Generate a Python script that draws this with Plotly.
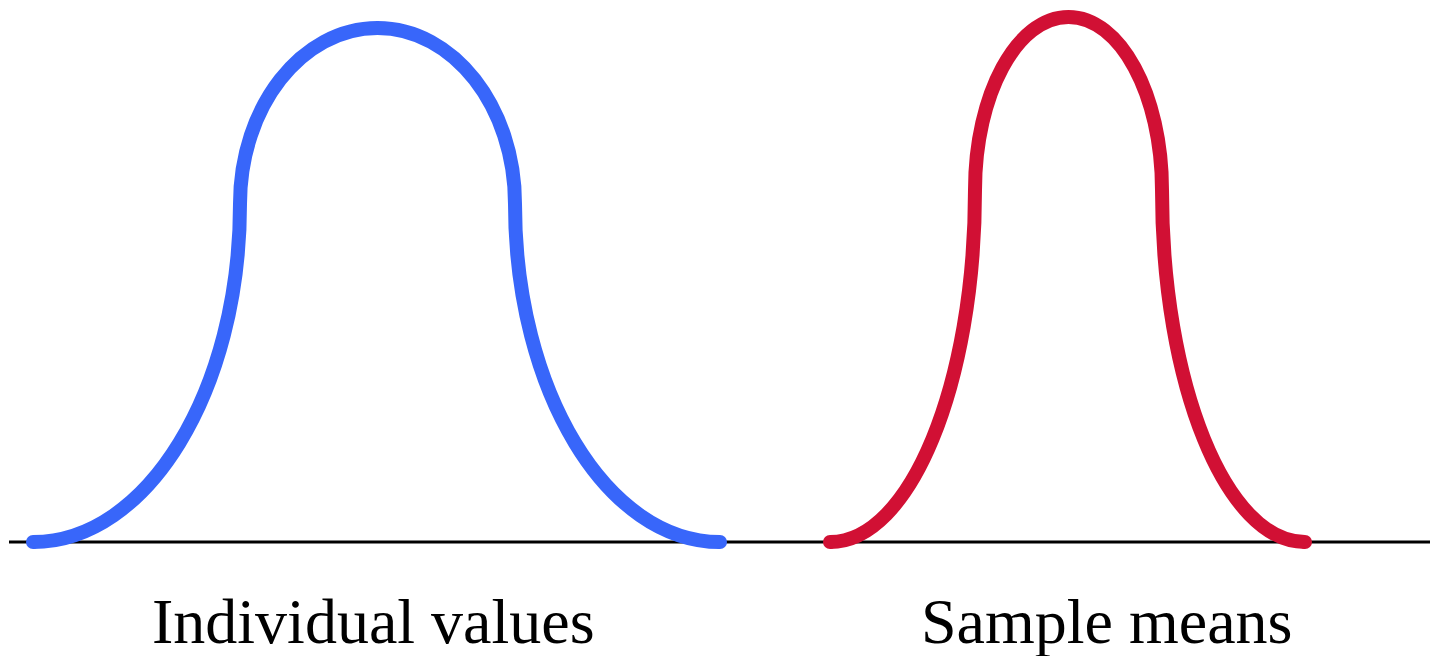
import plotly.graph_objects as go

# Key points of each schematic curve (data units; baseline at y = 0)
labels = ["Individual values", "Sample means"]
colors = ["#3866FA", "#D11034"]
start_x = [33, 830]
shoulder_left_x = [240, 975]
shoulder_right_x = [515, 1162]
end_x = [720, 1305]
shoulder_y = [338, 352]
peak_y = [514, 525]
label_x = [373, 1106]
label_y = [-79, -79]

baseline_x = [9, 1438]

K = 0.5523  # Bezier quarter-ellipse constant

fig = go.Figure()

shapes = [dict(type="line", xref="x", yref="y", x0=baseline_x[0], x1=baseline_x[1],
               y0=0, y1=0, line=dict(color="black", width=3), layer="below")]

for i in range(len(labels)):
    x0, xl, xr, x1 = start_x[i], shoulder_left_x[i], shoulder_right_x[i], end_x[i]
    ys, yp = shoulder_y[i], peak_y[i]
    xc = (xl + xr) / 2
    rxu = (xr - xl) / 2
    ryu = yp - ys
    path = (
        f"M {x0},0 "
        f"C {x0 + K * (xl - x0)},0 {xl},{ys - K * ys} {xl},{ys} "
        f"C {xl},{ys + K * ryu} {xc - K * rxu},{yp} {xc},{yp} "
        f"C {xc + K * rxu},{yp} {xr},{ys + K * ryu} {xr},{ys} "
        f"C {xr},{ys - K * ys} {x1 - K * (x1 - xr)},0 {x1},0"
    )
    shapes.append(dict(type="path", xref="x", yref="y", path=path,
                       line=dict(color=colors[i], width=14), layer="above"))
    # round caps at the ends
    fig.add_trace(go.Scatter(x=[x0, x1], y=[0, 0], mode="markers",
                             marker=dict(color=colors[i], size=14, line=dict(width=0)),
                             hoverinfo="skip", showlegend=False, cliponaxis=False))
    fig.add_annotation(x=label_x[i], y=label_y[i], xref="x", yref="y", text=labels[i],
                       showarrow=False, yanchor="middle", xanchor="center",
                       font=dict(family="Liberation Serif", size=64, color="black"))

# the page body adds an 8 px margin, so the figure is 8 px smaller and ranges start there
fig.update_layout(
    width=1430, height=648,
    margin=dict(l=0, r=0, t=0, b=0),
    paper_bgcolor="white", plot_bgcolor="white",
    shapes=shapes, showlegend=False,
    xaxis=dict(range=[8, 1438], visible=False, fixedrange=True),
    yaxis=dict(range=[-114, 534], visible=False, fixedrange=True),
)

fig.write_html("out.html")
